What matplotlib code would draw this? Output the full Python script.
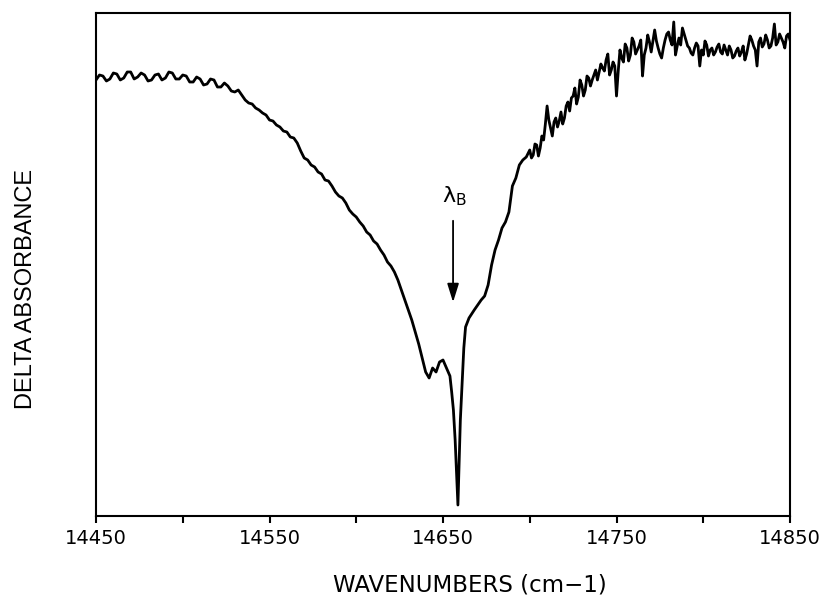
import matplotlib
matplotlib.use("Agg")
import matplotlib.pyplot as plt
from matplotlib import font_manager

# Wavenumbers (cm-1) and delta absorbance (arbitrary units)
wn_left = [
    14450, 14452, 14454, 14456, 14458, 14460, 14462, 14464, 14466, 14468,
    14470, 14472, 14474, 14476, 14478, 14480, 14482, 14484, 14486, 14488,
    14490, 14492, 14494, 14496, 14498, 14500, 14502, 14504, 14506, 14508,
    14510, 14512, 14514, 14516, 14518, 14520, 14522, 14524, 14526, 14528,
    14530, 14532, 14534, 14536, 14538, 14540, 14542, 14544, 14546, 14548,
    14550, 14552, 14554, 14556, 14558, 14560, 14562, 14564, 14566, 14568,
    14570, 14572, 14574, 14576, 14578, 14580, 14582, 14584, 14586, 14588,
    14590, 14592, 14594, 14596, 14598, 14600, 14602, 14604, 14606, 14608,
    14610, 14612, 14614, 14616, 14618, 14620, 14622, 14624, 14626, 14628,
    14630, 14632, 14634, 14636, 14638,
]
da_left = [
    436, 441, 440, 435, 437, 443, 442, 436, 438, 444,
    444, 437, 439, 443, 441, 435, 436, 441, 442, 436,
    438, 444, 443, 437, 437, 441, 440, 434, 434, 439,
    437, 431, 432, 437, 436, 429, 429, 433, 430, 425,
    424, 426, 421, 416, 413, 412, 408, 406, 403, 401,
    396, 395, 391, 389, 385, 384, 379, 378, 373, 365,
    358, 356, 351, 349, 344, 342, 336, 335, 330, 324,
    320, 318, 313, 306, 302, 299, 294, 290, 284, 281,
    275, 272, 266, 261, 254, 250, 244, 236, 226, 216,
    206, 196, 184, 172, 158,
]
wn_dip = [
    14640, 14642, 14644, 14646, 14648, 14650, 14652, 14654, 14655, 14656,
    14657, 14658, 14658.6, 14659.2, 14660, 14661, 14662, 14663, 14665, 14668,
    14670, 14672, 14674, 14676, 14678, 14680, 14682, 14684, 14686, 14688,
    14690, 14692, 14694, 14696, 14698,
]
da_dip = [
    144, 138, 148, 144, 154, 156, 148, 140, 124, 106,
    76, 36, 11, 46, 96, 131, 168, 189, 198, 206,
    211, 216, 220, 231, 251, 266, 276, 288, 294, 304,
    330, 338, 351, 356, 359,
]
wn_right = list(range(14700, 14851))
da_right = [
    366, 358, 361, 372, 371, 360, 368, 380, 376, 392,
    410, 396, 388, 380, 394, 398, 389, 395, 404, 392,
    398, 410, 414, 405, 418, 420, 428, 412, 419, 436,
    431, 420, 426, 440, 438, 430, 436, 441, 446, 436,
    444, 452, 448, 445, 456, 462, 441, 446, 454, 450,
    420, 445, 466, 458, 454, 472, 468, 455, 461, 478,
    474, 462, 466, 470, 476, 440, 461, 468, 481, 474,
    464, 475, 486, 475, 468, 462, 458, 468, 476, 482,
    484, 476, 471, 494, 461, 470, 478, 471, 488, 482,
    476, 470, 468, 463, 461, 468, 473, 470, 450, 466,
    461, 475, 471, 460, 466, 468, 461, 464, 469, 472,
    464, 462, 471, 466, 461, 470, 466, 458, 460, 465,
    468, 460, 464, 470, 456, 462, 471, 480, 476, 470,
    466, 450, 474, 478, 469, 472, 481, 476, 468, 470,
    478, 492, 471, 474, 482, 478, 474, 468, 480, 482,
    476,
]
x_ticks = [14450, 14550, 14650, 14750, 14850]
x_minor_ticks = [14500, 14600, 14700, 14800]
annot_x = 14655.8
annot_text_y = 320
annot_tail_y = 298
annot_head_y = 211

wavenumbers = wn_left + wn_dip + wn_right
delta_absorbance = da_left + da_dip + da_right

plt.rcParams['mathtext.fontset'] = 'dejavusans'

fig = plt.figure(figsize=(8.27, 5.96), dpi=100)
ax = fig.add_axes([96/827, 1 - 516/596, (790-96)/827, (516-13)/596])

ax.plot(wavenumbers, delta_absorbance, color='black', lw=2.0, solid_joinstyle='round')

ax.set_xlim(14450, 14850)
ax.set_ylim(0, 503)
ax.set_xticks(x_ticks)
ax.set_xticks(x_minor_ticks, minor=True)
ax.set_xticklabels([str(t) for t in x_ticks], fontsize=14, family='DejaVu Sans')
ax.set_yticks([])
ax.tick_params(axis='x', which='both', direction='out', length=5, width=1.5, pad=4)
for s in ax.spines.values():
    s.set_linewidth(1.5)

ax.annotate('', xy=(annot_x, annot_head_y), xytext=(annot_x, annot_tail_y),
            arrowprops=dict(arrowstyle='-|>,head_length=0.8,head_width=0.25',
                            color='black', lw=1.3, mutation_scale=14))
ax.text(annot_x + 0.8, annot_text_y, r'$\mathrm{\lambda}_{\mathrm{B}}$', fontsize=16,
        ha='center', va='center')

fig.text(470/827, 1 - 585/596, 'WAVENUMBERS (cm\u22121)', fontsize=16.5,
         ha='center', va='center', family='DejaVu Sans')

names = {f.name for f in font_manager.fontManager.ttflist}
yfam = ['Liberation Sans Narrow', 'DejaVu Sans'] if 'Liberation Sans Narrow' in names else ['Liberation Sans', 'DejaVu Sans']
fig.text(26/827, 1 - 289/596, 'DELTA ABSORBANCE', fontsize=17, rotation=90,
         ha='center', va='center', family=yfam)

fig.savefig('out.png', dpi=100)
